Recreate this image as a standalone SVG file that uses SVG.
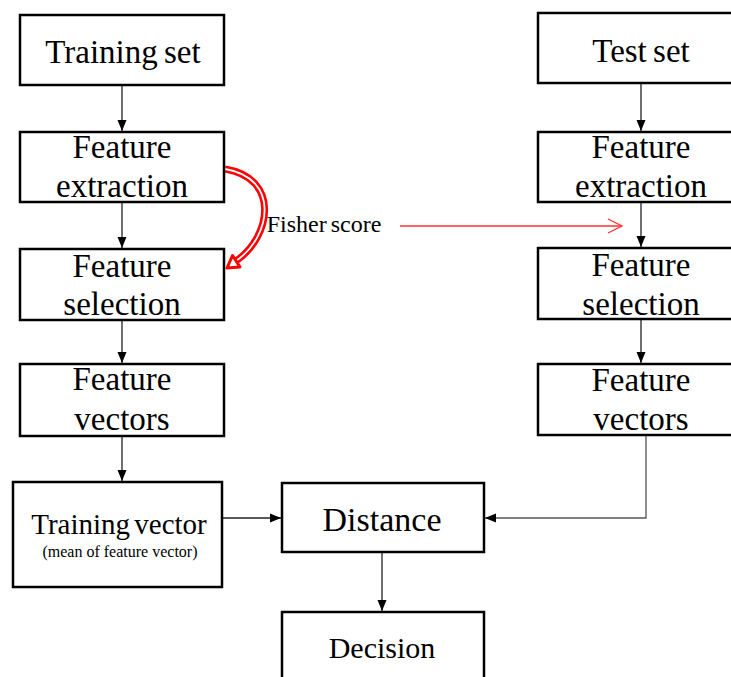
<svg xmlns="http://www.w3.org/2000/svg" width="731" height="677" viewBox="0 0 731 677">
<style>
.box{fill:#fff;stroke:#000;stroke-width:2.5}
.t{font-family:"Liberation Serif","Times New Roman",serif;fill:#000;text-anchor:middle}
.m{font-size:33px}
.c{stroke:#222;stroke-width:1.3;fill:none}
</style>
<defs>
<marker id="ah" markerUnits="userSpaceOnUse" markerWidth="12" markerHeight="12" viewBox="0 0 12 12" refX="11" refY="6" orient="auto">
<path d="M0,1.5 L11,6 L0,10.5 Z" fill="#000"/>
</marker>
</defs>
<rect width="731" height="677" fill="#fff"/>
<g id="connectors">
<line class="c" x1="122" y1="85" x2="122" y2="131" marker-end="url(#ah)"/>
<line class="c" x1="122" y1="202" x2="122" y2="248" marker-end="url(#ah)"/>
<line class="c" x1="122" y1="320" x2="122" y2="363" marker-end="url(#ah)"/>
<line class="c" x1="122" y1="436" x2="122" y2="481" marker-end="url(#ah)"/>
<line class="c" x1="641" y1="83" x2="641" y2="131" marker-end="url(#ah)"/>
<line class="c" x1="641" y1="202" x2="641" y2="247" marker-end="url(#ah)"/>
<line class="c" x1="641" y1="319" x2="641" y2="363" marker-end="url(#ah)"/>
<line class="c" x1="222" y1="518" x2="281" y2="518" marker-end="url(#ah)"/>
<polyline class="c" points="646,435 646,518 485,518" marker-end="url(#ah)" style="stroke:#555"/>
<line class="c" x1="382" y1="552" x2="382" y2="611" marker-end="url(#ah)"/>
<path d="M225,169 C280,178 272,236 236,261" fill="none" stroke="#ff0000" stroke-width="7"/>
<path d="M225,169 C280,178 272,236 236,261" fill="none" stroke="#fff" stroke-width="1.8"/>
<polygon points="227,268 240,267 232.5,255.5" fill="#fff" stroke="#ff0000" stroke-width="3" stroke-linejoin="round"/>
<line x1="400" y1="226" x2="621" y2="226" stroke="#ff3030" stroke-width="1.3"/>
<polyline points="608,219 622,226 608,233" fill="none" stroke="#ff3030" stroke-width="1.3"/>
<text class="t" x="324" y="232" font-size="24" word-spacing="-2">Fisher score</text>
</g>
<g id="training-set">
<rect class="box" x="20" y="15" width="204" height="70"/>
<text class="t m" x="123" y="63" word-spacing="-2">Training set</text>
</g>
<g id="train-feature-extraction">
<rect class="box" x="20" y="132" width="204" height="70"/>
<text class="t m" x="122" y="158">Feature</text>
<text class="t m" x="122" y="197">extraction</text>
</g>
<g id="train-feature-selection">
<rect class="box" x="20" y="249" width="204" height="71"/>
<text class="t m" x="122" y="277">Feature</text>
<text class="t m" x="122" y="315">selection</text>
</g>
<g id="train-feature-vectors">
<rect class="box" x="20" y="364" width="204" height="72"/>
<text class="t m" x="122" y="390">Feature</text>
<text class="t m" x="122" y="430">vectors</text>
</g>
<g id="training-vector">
<rect class="box" x="13" y="482" width="209" height="105"/>
<text class="t" x="119" y="534" font-size="29" word-spacing="-3">Training vector</text>
<text class="t" x="120" y="557" font-size="16">(mean of feature vector)</text>
</g>
<g id="test-set">
<rect class="box" x="538" y="13" width="210" height="70"/>
<text class="t m" x="641" y="62" word-spacing="-2">Test set</text>
</g>
<g id="test-feature-extraction">
<rect class="box" x="538" y="132" width="210" height="70"/>
<text class="t m" x="641" y="158">Feature</text>
<text class="t m" x="641" y="197">extraction</text>
</g>
<g id="test-feature-selection">
<rect class="box" x="538" y="248" width="210" height="71"/>
<text class="t m" x="641" y="276">Feature</text>
<text class="t m" x="641" y="315">selection</text>
</g>
<g id="test-feature-vectors">
<rect class="box" x="538" y="364" width="210" height="71"/>
<text class="t m" x="641" y="391">Feature</text>
<text class="t m" x="641" y="430">vectors</text>
</g>
<g id="distance">
<rect class="box" x="282" y="483" width="202" height="69"/>
<text class="t" x="382" y="531" font-size="34">Distance</text>
</g>
<g id="decision">
<rect class="box" x="282" y="612" width="202" height="80"/>
<text class="t" x="382" y="658" font-size="30">Decision</text>
</g>
</svg>
